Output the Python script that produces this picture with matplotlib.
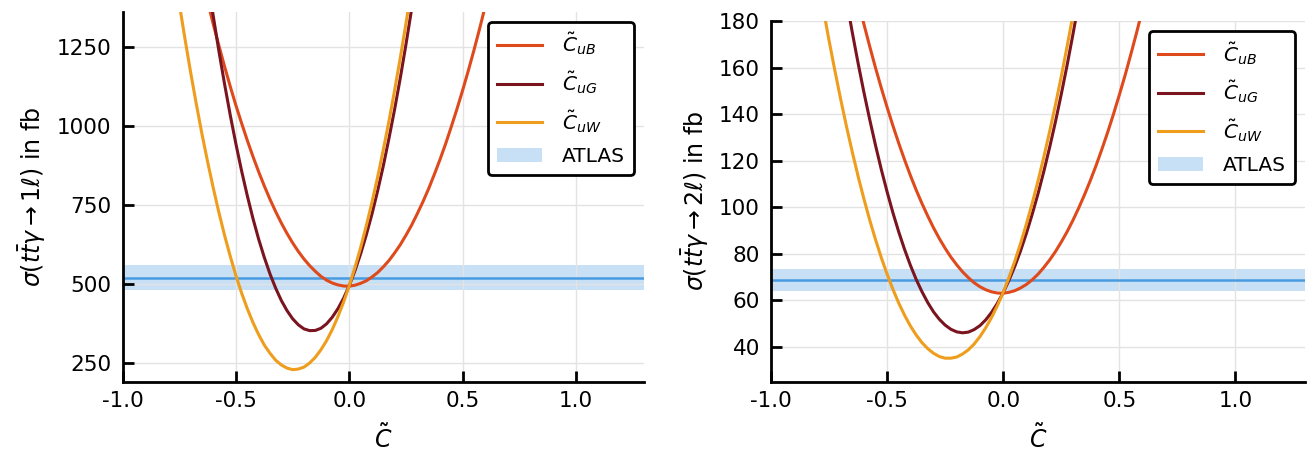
import numpy as np
import matplotlib
matplotlib.use("Agg")
from matplotlib import pyplot as plt

# Wilson coefficient values (coarse grid + in-between points)
c_grid = [-0.80, -0.75, -0.70, -0.65, -0.60, -0.55, -0.50, -0.45, -0.40, -0.35,
          -0.30, -0.25, -0.20, -0.15, -0.10, -0.05, 0.00, 0.05, 0.10, 0.15,
          0.20, 0.25, 0.30, 0.35, 0.40, 0.45, 0.50, 0.55, 0.60, 0.65]
c_mid = [-0.775, -0.725, -0.675, -0.625, -0.575, -0.525, -0.475, -0.425, -0.375, -0.325,
         -0.275, -0.225, -0.175, -0.125, -0.075, -0.025, 0.025, 0.075, 0.125, 0.175,
         0.225, 0.275, 0.325, 0.375, 0.425, 0.475, 0.525, 0.575, 0.625]

# sigma(tt~gamma -> 1 lepton) in fb
uB_1l = [1979, 1797, 1627, 1469, 1322, 1188, 1065, 955, 856, 769,
         694, 631, 580, 541, 513, 498, 494, 503, 523, 555,
         599, 655, 723, 802, 894, 998, 1113, 1240, 1380, 1531]
uB_1l_mid = [1887, 1711, 1546, 1394, 1254, 1125, 1009, 904, 811, 730,
             661, 604, 559, 525, 504, 494.5, 497, 511, 537, 575,
             625, 687, 761, 847, 944, 1054, 1175, 1308, 1454]
uG_1l = [2472, 2151, 1857, 1589, 1347, 1132, 943, 780, 643, 533,
         449, 391, 359, 354, 375, 423, 496, 596, 722, 874,
         1053, 1258, 1489, 1747, 2031, 2341, 2677, 3040, 3428, 3844]
uG_1l_mid = [2308, 2001, 1720, 1465, 1236, 1034, 858, 708, 585, 488,
             417, 372, 353.5, 361, 396, 456, 543, 656, 795, 961,
             1152, 1370, 1615, 1885, 2182, 2505, 2855, 3231, 3633]
uW_1l = [1626, 1387, 1170, 975, 804, 654, 527, 423, 341, 282,
         245, 230, 238, 269, 322, 398, 496, 616, 759, 925,
         1113, 1324, 1557, 1812, 2091, 2391, 2714, 3060, 3428, 3819]
uW_1l_mid = [1504, 1276, 1070, 887, 726, 588, 472, 379, 308, 260,
             235, 232, 251, 293, 357, 444, 553, 685, 839, 1016,
             1216, 1438, 1682, 1949, 2238, 2550, 2884, 3241, 3620]

# sigma(tt~gamma -> 2 leptons) in fb
uB_2l = [270.0, 244.7, 221.0, 199.0, 178.7, 159.9, 142.9, 127.5, 113.7, 101.6,
         91.1, 82.3, 75.2, 69.7, 65.8, 63.6, 63.0, 64.1, 66.8, 71.2,
         77.3, 85.0, 94.3, 105.3, 117.9, 132.2, 148.2, 165.8, 185.0, 205.9]
uB_2l_mid = [257.1, 232.6, 209.8, 188.6, 169.1, 151.2, 135.0, 120.4, 107.4, 96.2,
             86.5, 78.5, 72.2, 67.5, 64.5, 63.1, 63.4, 65.3, 68.8, 74.1,
             80.9, 89.4, 99.6, 111.4, 124.9, 140.0, 156.7, 175.2, 195.2]
uG_2l = [269.4, 235.1, 203.7, 175.1, 149.4, 126.6, 106.6, 89.4, 75.1, 63.7,
         55.0, 49.3, 46.4, 46.3, 49.1, 54.8, 63.3, 74.6, 88.8, 105.8,
         125.7, 148.5, 174.1, 202.5, 233.8, 267.9, 304.9, 344.8, 387.5, 433.0]
uG_2l_mid = [251.9, 219.1, 189.1, 161.9, 137.7, 116.2, 97.6, 81.9, 69.0, 59.0,
             51.8, 47.5, 46.0, 47.4, 51.6, 58.7, 68.6, 81.3, 97.0, 115.4,
             136.7, 160.9, 187.9, 217.8, 250.5, 286.1, 324.5, 365.8, 409.9]
uW_2l = [199.4, 171.6, 146.4, 123.7, 103.6, 86.1, 71.2, 58.8, 49.0, 41.8,
         37.2, 35.1, 35.6, 38.7, 44.4, 52.6, 63.4, 76.8, 92.8, 111.3,
         132.5, 156.1, 182.4, 211.2, 242.7, 276.7, 313.2, 352.4, 394.1, 438.4]
uW_2l_mid = [185.2, 158.7, 134.7, 113.3, 94.5, 78.3, 64.7, 53.6, 45.1, 39.2,
             35.8, 35.1, 36.9, 41.2, 48.2, 57.7, 69.8, 84.5, 101.7, 121.6,
             144.0, 169.0, 196.5, 226.6, 259.3, 294.6, 332.5, 372.9, 415.9]

# ATLAS measurements (central, uncertainty)
atlas_1l = (521, 40)
atlas_2l = (68.8, 4.8)

labels = [r'$\tilde{C}_{uB}$', r'$\tilde{C}_{uG}$', r'$\tilde{C}_{uW}$']
colors = ['#de4a1c', '#7a1520', '#ee9d1c']
atlas_color = '#489be0'

plt.rcParams['axes.unicode_minus'] = False


def merged(coarse, fine):
    x = np.concatenate([c_grid, c_mid])
    y = np.concatenate([coarse, fine])
    idx = np.argsort(x)
    return x[idx], y[idx]


def draw_panel(ax, curves, atlas, ylim, yticks, ylabel):
    mid, err = atlas
    ax.axhspan(mid - err, mid + err, color=atlas_color, alpha=0.3, lw=0, label='ATLAS', zorder=1)
    ax.axhline(mid, color=atlas_color, lw=1.8, zorder=2)
    for (coarse, fine), lab, col in zip(curves, labels, colors):
        x, y = merged(coarse, fine)
        ax.plot(x, y, color=col, lw=2.2, label=lab, zorder=3)
    ax.set_xlim(-1.0, 1.3)
    ax.set_ylim(*ylim)
    ax.set_xticks([-1.0, -0.5, 0.0, 0.5, 1.0])
    ax.set_xticklabels(['-1.0', '-0.5', '0.0', '0.5', '1.0'])
    ax.set_yticks(yticks)
    ax.grid(color='#e3e3e3', lw=1.0, zorder=0)
    for s in ['top', 'right']:
        ax.spines[s].set_visible(False)
    for s in ['left', 'bottom']:
        ax.spines[s].set_linewidth(2.0)
    ax.tick_params(direction='in', length=8, width=2.0, labelsize=15.5)
    ax.tick_params(axis='y', pad=8)
    ax.tick_params(axis='x', pad=7)
    ax.set_xlabel(r'$\tilde{C}$', fontsize=17, labelpad=9)
    ax.set_ylabel(ylabel, fontsize=17, labelpad=6)
    # legend: curves first, band last
    h, l = ax.get_legend_handles_labels()
    order = [1, 2, 3, 0]
    leg = ax.legend([h[i] for i in order], [l[i] for i in order], loc='upper right',
                    fontsize=14.5, frameon=True, fancybox=True, edgecolor='black',
                    framealpha=1, handlelength=2.2, handletextpad=1.0,
                    labelspacing=0.6, borderaxespad=0.5, borderpad=0.45)
    leg.get_frame().set_linewidth(2.0)
    leg.set_zorder(5)


fig = plt.figure(figsize=(13.09, 4.57), dpi=100)

ax1 = fig.add_axes([0.0937, 0.1648, 0.3982, 0.8096])
draw_panel(ax1, [(uB_1l, uB_1l_mid), (uG_1l, uG_1l_mid), (uW_1l, uW_1l_mid)], atlas_1l,
           (192, 1362), [250, 500, 750, 1000, 1250],
           r'$\sigma(t\bar{t}\gamma \rightarrow 1\ell)$ in fb')

ax2 = fig.add_axes([0.589, 0.1648, 0.408, 0.7893])
draw_panel(ax2, [(uB_2l, uB_2l_mid), (uG_2l, uG_2l_mid), (uW_2l, uW_2l_mid)], atlas_2l,
           (25, 180), [40, 60, 80, 100, 120, 140, 160, 180],
           r'$\sigma(t\bar{t}\gamma \rightarrow 2\ell)$ in fb')

fig.savefig('out.png', dpi=100)
